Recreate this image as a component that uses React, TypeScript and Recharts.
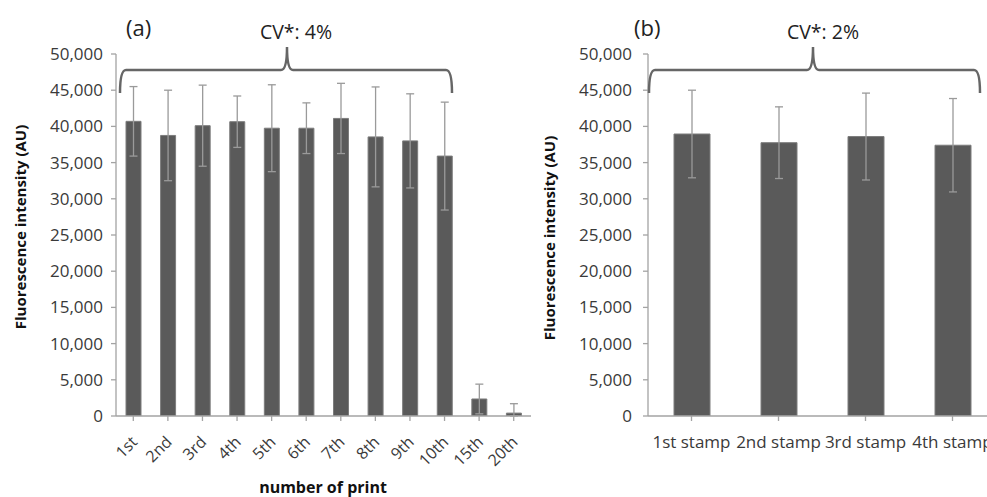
import React from "react"
import { Bar, BarChart, ErrorBar, XAxis, YAxis } from "recharts"

const printLabels = ["1st", "2nd", "3rd", "4th", "5th", "6th", "7th", "8th", "9th", "10th", "15th", "20th"]
const printMeans = [40700, 38750, 40100, 40650, 39750, 39750, 41100, 38550, 38000, 35900, 2350, 400]
const printErrors = [4800, 6250, 5600, 3550, 6000, 3500, 4850, 6900, 6500, 7450, 2050, 1300]

const stampLabels = ["1st stamp", "2nd stamp", "3rd stamp", "4th stamp"]
const stampMeans = [38950, 37750, 38600, 37400]
const stampErrors = [6050, 4950, 6000, 6450]

const yTicks = [0, 5000, 10000, 15000, 20000, 25000, 30000, 35000, 40000, 45000, 50000]

// lower whisker stops at the axis floor (0), like the original
const printData = printLabels.map((name, i) => ({
  name,
  value: printMeans[i],
  err: [Math.min(printErrors[i], printMeans[i]), printErrors[i]],
}))
const stampData = stampLabels.map((name, i) => ({
  name,
  value: stampMeans[i],
  err: [Math.min(stampErrors[i], stampMeans[i]), stampErrors[i]],
}))

const FONT = "'Open Sans', 'DejaVu Sans', sans-serif"
const AXIS = "#a3a3a3"
const TEXT = "#3a3a3a"
const BAR = "#5a5a5a"

const fmt = (v: number) => v.toLocaleString("en-US")

// rotated category labels for panel (a)
const SlantTick = (props: any) => {
  const { x, y, payload } = props
  return (
    <g transform={`translate(${x + 5},${y + 20})`}>
      <text textAnchor="end" transform="rotate(-45)" fontSize={16} fill={TEXT} fontFamily={FONT}>
        {payload.value}
      </text>
    </g>
  )
}

// curly brace over a group of bars
const brace = (x1: number, x2: number, xm: number, y: number, drop: number, peak: number) => {
  const r = 6
  return [
    `M ${x1} ${y + drop}`,
    `Q ${x1} ${y} ${x1 + r} ${y}`,
    `L ${xm - r} ${y}`,
    `Q ${xm} ${y} ${xm} ${y - peak}`,
    `Q ${xm} ${y} ${xm + r} ${y}`,
    `L ${x2 - r} ${y}`,
    `Q ${x2} ${y} ${x2} ${y + drop}`,
  ].join(" ")
}

export default function App() {
  return (
    <div
      style={{
        position: "fixed",
        left: 0,
        top: 0,
        width: 987,
        height: 497,
        overflow: "hidden",
        background: "#fff",
      }}
    >
      <div style={{ position: "absolute", left: 0, top: 0 }}>
        <BarChart width={540} height={497} data={printData} margin={{ top: 54, right: 9, left: 0, bottom: 0 }}>
          <XAxis
            dataKey="name"
            height={81}
            tick={<SlantTick />}
            interval={0}
            stroke={AXIS}
            strokeWidth={1.3}
            tickSize={5}
          />
          <YAxis
            width={116}
            domain={[0, 50000]}
            allowDataOverflow
            ticks={yTicks}
            tickFormatter={fmt}
            stroke={AXIS}
            strokeWidth={1.3}
            tickSize={5}
            tickMargin={8}
            interval={0}
            tick={{ fontSize: 17, fill: TEXT, fontFamily: FONT }}
          />
          <Bar dataKey="value" fill={BAR} stroke="#7c7c7c" strokeWidth={1} barSize={15} isAnimationActive={false}>
            <ErrorBar dataKey="err" width={4} stroke="#9a9a9a" strokeWidth={1.3} direction="y" />
          </Bar>
        </BarChart>
      </div>
      <div style={{ position: "absolute", left: 540, top: 0 }}>
        <BarChart width={460} height={497} data={stampData} margin={{ top: 54, right: 4, left: 0, bottom: 0 }}>
          <XAxis
            dataKey="name"
            height={81}
            interval={0}
            stroke={AXIS}
            strokeWidth={1.3}
            tickSize={5}
            tickMargin={15}
            tick={{ fontSize: 17, fill: TEXT, fontFamily: FONT }}
          />
          <YAxis
            width={108}
            domain={[0, 50000]}
            allowDataOverflow
            ticks={yTicks}
            tickFormatter={fmt}
            stroke={AXIS}
            strokeWidth={1.3}
            tickSize={5}
            tickMargin={11}
            interval={0}
            tick={{ fontSize: 17, fill: TEXT, fontFamily: FONT }}
          />
          <Bar dataKey="value" fill={BAR} stroke="#7c7c7c" strokeWidth={1} barSize={36} isAnimationActive={false}>
            <ErrorBar dataKey="err" width={4} stroke="#9a9a9a" strokeWidth={1.3} direction="y" />
          </Bar>
        </BarChart>
      </div>
      <svg
        width={987}
        height={497}
        style={{ position: "absolute", left: 0, top: 0, pointerEvents: "none" }}
        fontFamily={FONT}
      >
        <path d={brace(120, 452, 287, 70, 23, 23)} fill="none" stroke="#666" strokeWidth={2.5} />
        <path d={brace(649, 980, 813, 70, 23, 23)} fill="none" stroke="#666" strokeWidth={2.5} />
        <text x={126} y={36} fontSize={22} fill="#222">(a)</text>
        <text x={634} y={36} fontSize={22} fill="#222">(b)</text>
        <text x={296} y={39} fontSize={19.5} fill="#222" textAnchor="middle">CV*: 4%</text>
        <text x={823} y={39} fontSize={19.5} fill="#222" textAnchor="middle">CV*: 2%</text>
        <text
          transform="translate(20,227) rotate(-90)"
          fontSize={15}
          fontWeight="bold"
          fill="#111"
          textAnchor="middle"
          dominantBaseline="central"
        >
          Fluorescence intensity (AU)
        </text>
        <text
          transform="translate(549,238) rotate(-90)"
          fontSize={15}
          fontWeight="bold"
          fill="#111"
          textAnchor="middle"
          dominantBaseline="central"
        >
          Fluorescence intensity (AU)
        </text>
        <text x={323} y={493} fontSize={16} fontWeight="bold" fill="#111" textAnchor="middle">
          number of print
        </text>
      </svg>
    </div>
  )
}
